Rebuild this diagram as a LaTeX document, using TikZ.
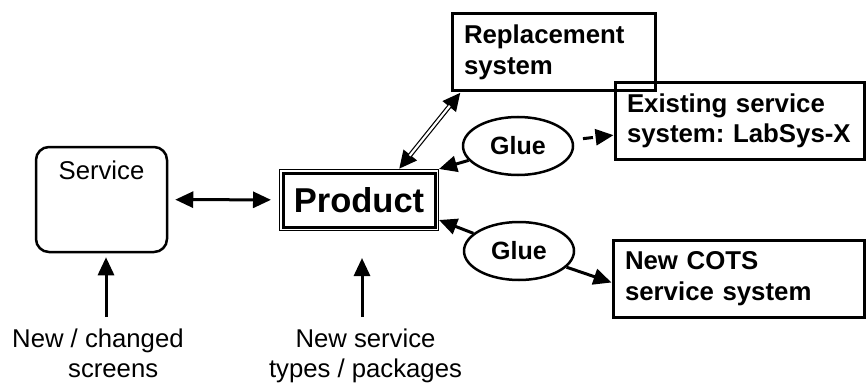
\documentclass[tikz,border=0pt]{standalone}
\usepackage{fontspec}
\setmainfont{Liberation Sans}
\frenchspacing
\usetikzlibrary{shapes.geometric,arrows.meta,fit,positioning}
\tikzset
{
    sysbox/.style  = {rectangle, draw=black, line width=3pt, align=left, text width=#1, inner xsep=12pt, inner ysep=0pt, minimum height=77pt, font=\fontsize{25.8}{30.5}\selectfont\bfseries},
    prodbox/.style = {rectangle, draw=black, line width=3pt, minimum width=152pt, minimum height=54pt, inner sep=0pt, font=\fontsize{34.5}{36}\selectfont\bfseries},
    servbox/.style = {rectangle, rounded corners=13pt, draw=black, line width=2.5pt, minimum width=131pt, minimum height=105pt},
    glue/.style    = {ellipse, draw=black, line width=2.5pt, minimum width=110pt, minimum height=58pt, inner sep=0pt, font=\fontsize{25}{30}\selectfont\bfseries},
    note/.style    = {inner sep=0pt, font=\fontsize{25.7}{30}\selectfont},
    arr/.style     = {-{Triangle[length=18pt,width=16pt]}, line width=3pt},
    biarr/.style   = {{Triangle[length=18pt,width=16pt]}-{Triangle[length=18pt,width=16pt]}, line width=3pt}
}

\begin{document}
\begin{tikzpicture}[x=1pt, y=-1pt]
\useasboundingbox (0,0) rectangle (866,385);
% boxes
\node [servbox, label={[note, anchor=north, yshift=-15pt]north:Service}] at (101.5,199.5) (serv) {};
\node [prodbox] at (359,200) (prod) {Product};
\node [fit=(prod), draw=black, line width=1pt, inner sep=2pt] (prodout) {};
\node [sysbox=179pt] at (553.5,52.5) (repl) {Replacement\\system};
\node [sysbox=225pt] at (739.5,121) (exist) {Existing service\\system: LabSys-X};
\node [sysbox=227pt] at (738.5,278.5) (cots) {New COTS\\service system};
\node [glue] at (518,146) (glue1) {Glue};
\node [glue] at (519,251) (glue2) {Glue};
% inputs from below
\node [note, align=left, anchor=north west] at (12,328.5) (scr) {New / changed\\\hspace*{56pt}screens};
\node [note, align=center, anchor=north] at (365.5,328.5) (pkgs) {New service\\types / packages};
\coordinate (scrtail) at (106,317);
\coordinate (pkgtail) at (362,317);
% connectors
\draw [biarr, shorten <=7pt, shorten >=8pt] (serv) -- (prodout);
\draw [arr, shorten >=4pt] (scrtail) -- (scrtail |- serv.south);
\draw [arr, shorten >=27pt] (pkgtail) -- (pkgtail |- prodout.south);
% hollow link to the replacement system
\draw [biarr, line width=4.6pt] ([xshift=40pt]prodout.north) -- ([xshift=10pt]repl.south west);
\draw [white, line width=2.2pt, shorten <=17pt, shorten >=17pt] ([xshift=40pt]prodout.north) -- ([xshift=10pt]repl.south west);
\draw [arr] (glue1) -- (prodout.north east);
\draw [arr, dash pattern=on 10pt off 7pt, shorten <=10pt] (glue1) -- (exist);
\draw [arr] (glue2) -- ([yshift=-20pt]prodout.east);
\draw [arr] (glue2) -- ([yshift=-4pt]cots.west);
\end{tikzpicture}
\end{document}
